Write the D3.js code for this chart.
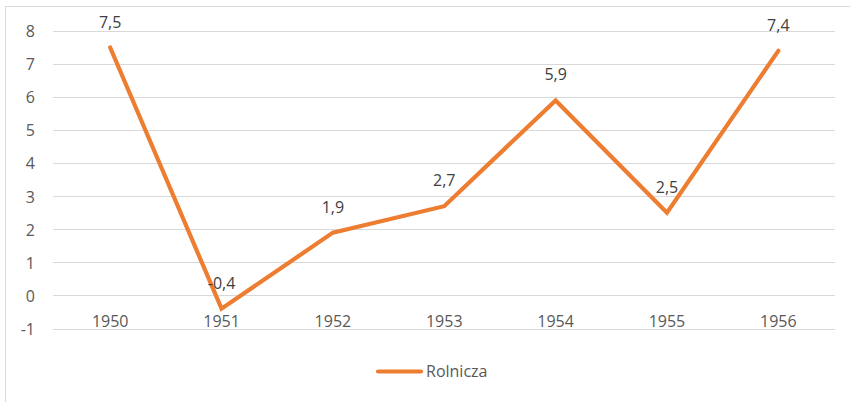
<!DOCTYPE html>
<html><head><meta charset="utf-8">
<script src="https://cdn.jsdelivr.net/npm/d3@7"></script>
<style>body{margin:0;background:#fff}svg{display:block}text{font-family:"Open Sans","Liberation Sans",sans-serif}</style>
</head><body><svg id="c" width="850" height="402"></svg>
<script>
const categories = ["1950","1951","1952","1953","1954","1955","1956"];
const values = [7.5,-0.4,1.9,2.7,5.9,2.5,7.4];
const labels = ["7,5","-0,4","1,9","2,7","5,9","2,5","7,4"];
const yTicks = [-1,0,1,2,3,4,5,6,7,8];
const seriesName = "Rolnicza";

const svg = d3.select("#c");
svg.append("rect").attr("x",5.5).attr("y",6.5).attr("width",900).attr("height",400).attr("fill","#fff").attr("stroke","#d9d9d9");
const x = d3.scaleBand().domain(categories).range([54.5,834]);
const y = d3.scaleLinear().domain([-1,8]).range([328.5,31]);

svg.append("g").selectAll("line").data(yTicks).join("line")
  .attr("x1",53).attr("x2",835).attr("y1",d=>Math.round(y(d))+0.5).attr("y2",d=>Math.round(y(d))+0.5)
  .attr("stroke","#d9d9d9").attr("stroke-width",1);

const yAxis = svg.append("g").attr("transform","translate(35,0)")
  .call(d3.axisLeft(y).tickValues(yTicks).tickSize(0).tickPadding(0).tickFormat(d=>String(d)));
yAxis.select(".domain").remove();
yAxis.selectAll("text").attr("fill","#595959").style("font-size","16px").attr("dy","0.36em");

const xAxis = svg.append("g").attr("transform",`translate(0,${y(0)})`)
  .call(d3.axisBottom(x).tickSize(0).tickPadding(0));
xAxis.select(".domain").remove();
xAxis.selectAll("text").attr("fill","#595959").style("font-size","16px").attr("y",31.5).attr("dy",null);

const line = d3.line().x((d,i)=>x(categories[i])+x.bandwidth()/2).y(d=>y(d));
svg.append("path").datum(values).attr("d",line).attr("fill","none")
  .attr("stroke","#ED7D31").attr("stroke-width",4.2).attr("stroke-linejoin","miter").attr("stroke-linecap","round");

svg.append("g").selectAll("text").data(values).join("text")
  .attr("x",(d,i)=>x(categories[i])+x.bandwidth()/2).attr("y",d=>y(d)-20)
  .attr("text-anchor","middle").attr("fill","#404040").style("font-size","16px")
  .text((d,i)=>labels[i]);

const lg = svg.append("g");
lg.append("line").attr("x1",378).attr("x2",421).attr("y1",371.5).attr("y2",371.5)
  .attr("stroke","#ED7D31").attr("stroke-width",4.2).attr("stroke-linecap","round");
lg.append("text").attr("x",426).attr("y",377).attr("fill","#595959").style("font-size","16px").text(seriesName);
</script></body></html>
